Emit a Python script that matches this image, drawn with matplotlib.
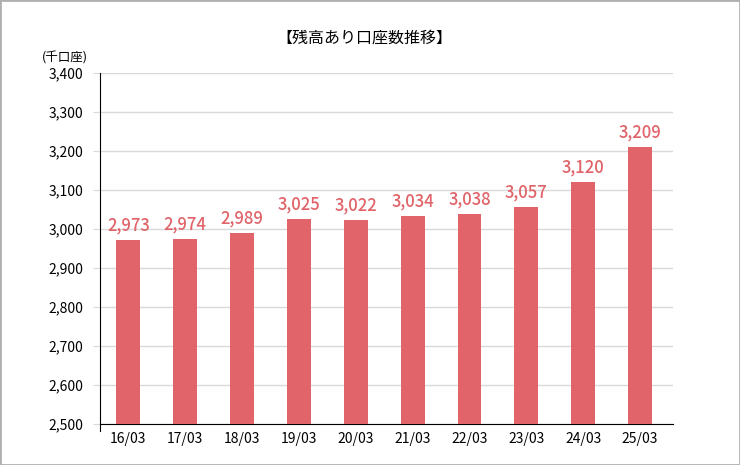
import matplotlib.pyplot as plt
from matplotlib.patches import Rectangle

plt.rcParams['font.family'] = ['Noto Sans CJK JP', 'DejaVu Sans']

# データ
nendo = ['16/03', '17/03', '18/03', '19/03', '20/03', '21/03', '22/03', '23/03', '24/03', '25/03']
kouza = [2973, 2974, 2989, 3025, 3022, 3034, 3038, 3057, 3120, 3209]
y_ticks = [2500, 2600, 2700, 2800, 2900, 3000, 3100, 3200, 3300, 3400]

bar_color = '#e0646a'

fig = plt.figure(figsize=(7.4, 4.65), dpi=100)
ax = fig.add_axes([0.1351, 0.0882, 0.7743, 0.7548])

x = range(len(nendo))
ax.bar(x, kouza, width=0.42, color=bar_color, zorder=3)

for i, v in enumerate(kouza):
    ax.annotate(f'{v:,}', (i, v), xytext=(0, 4), textcoords='offset points',
                ha='center', va='bottom', fontsize=12, color=bar_color,
                fontweight='medium')

ax.set_ylim(2500, 3400)
ax.set_xlim(-0.5, len(nendo) - 0.42)
ax.set_yticks(y_ticks)
ax.set_yticklabels([f'{t:,}' for t in y_ticks], fontsize=10)
ax.set_xticks(list(x))
ax.set_xticklabels(nendo, fontsize=10)
ax.tick_params(axis='y', length=5, color='#d9d9d9', pad=7)
ax.tick_params(axis='x', length=0, pad=6)
ax.yaxis.grid(True, color='#d9d9d9', linewidth=1, zorder=0)

for s in ['top', 'right']:
    ax.spines[s].set_visible(False)
ax.spines['left'].set_color('black')
ax.spines['bottom'].set_color('black')
ax.spines['left'].set_bounds(2500 - 900 * 7 / 351, 3400)

fig.text(0.493, 0.918, '【残高あり口座数推移】', ha='center', va='center', fontsize=11.5)
fig.text(0.088, 0.875, '(千口座)', ha='center', va='center', fontsize=9)

# 外枠
fig.patches.append(Rectangle((0, 0), 1, 1, transform=fig.transFigure, fill=False,
                             edgecolor='#b0b0b0', linewidth=2))

fig.savefig('out.png', dpi=100)
